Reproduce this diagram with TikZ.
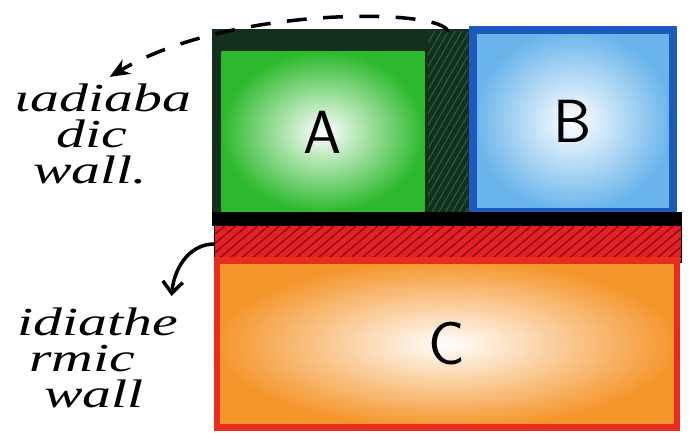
\documentclass[tikz,border=0pt]{standalone}
\usepackage{fontspec}
\usetikzlibrary{arrows.meta,positioning,patterns.meta}
\newfontfamily\handfont[FakeStretch=1.45]{Liberation Serif}
\definecolor{greenA}{RGB}{45,185,45}
\definecolor{darkwall}{RGB}{18,48,28}
\definecolor{hatchgreen}{RGB}{45,100,65}
\definecolor{blueB}{RGB}{105,180,235}
\definecolor{blueedge}{RGB}{30,90,190}
\definecolor{redwall}{RGB}{228,32,38}
\definecolor{hatchred}{RGB}{120,10,20}
\definecolor{orangeC}{RGB}{245,150,45}
\definecolor{rededge}{RGB}{232,45,30}

\begin{document}
\begin{tikzpicture}[
    x=0.03cm, y=-0.03cm,
    every node/.style={inner sep=0pt, outer sep=0pt},
    chamber/.style={draw=none, font=\sffamily\fontsize{52}{52}\selectfont, inner color=white},
    wallbox/.style={draw=black, line width=1pt},
    note/.style={align=left, font=\handfont\itshape\fontsize{34}{31}\selectfont},
    link/.style={line width=3pt}
]
\useasboundingbox (0,0) rectangle (691,433);
% adiabatic frame round A
\node[fill=darkwall, minimum width=7.74cm, minimum height=5.85cm] (frame) at (341,127) {};
\node[chamber, outer color=greenA, minimum width=6.09cm, minimum height=4.8cm] (A) at (323,132) {A};
\node[fill=darkwall, minimum width=1.2cm, minimum height=5.46cm,
      postaction={pattern={Lines[angle=60,distance=5pt,line width=0.8pt]}, pattern color=hatchgreen}] (adwall) at (448,123) {};
\node[chamber, outer color=blueB, draw=blueedge, line width=2.2mm, minimum width=6.0cm, minimum height=5.45cm] (B) at (573,121) {B};
% diathermic wall and C
\node[fill=black, minimum width=14.1cm, minimum height=0.42cm] (base) at (447,219) {};
\node[wallbox, fill=redwall, minimum width=14.01cm, minimum height=1.11cm,
      postaction={pattern={Lines[angle=40,distance=6pt,line width=1pt]}, pattern color=hatchred}] (diawall) at (448,244) {};
\node[chamber, outer color=orangeC, draw=rededge, line width=2mm, minimum width=13.8cm, minimum height=5.0cm] (C) at (447,344) {C};
% labels
\node[note] (adnote) at (103,134) {ιadiaba\\\hspace*{1.25cm}dic\\\hspace*{0.55cm}wall.};
\node[note] (dianote) at (98,358) {idiathe\\\hspace*{0.35cm}rmic\\\hspace*{0.8cm}wall};
\draw[link, dash pattern=on 17pt off 14pt, -{Stealth[length=6mm,width=5mm]}]
    (adwall.north) .. controls (445,8) and (230,5) .. ([xshift=0.2cm,yshift=0.2cm]adnote.north);
\draw[link, -{Straight Barb[length=3.5mm,width=6mm]}]
    (diawall.west) to[out=180, in=85] ([xshift=-0.2cm,yshift=0.35cm]dianote.north east);
\end{tikzpicture}
\end{document}
